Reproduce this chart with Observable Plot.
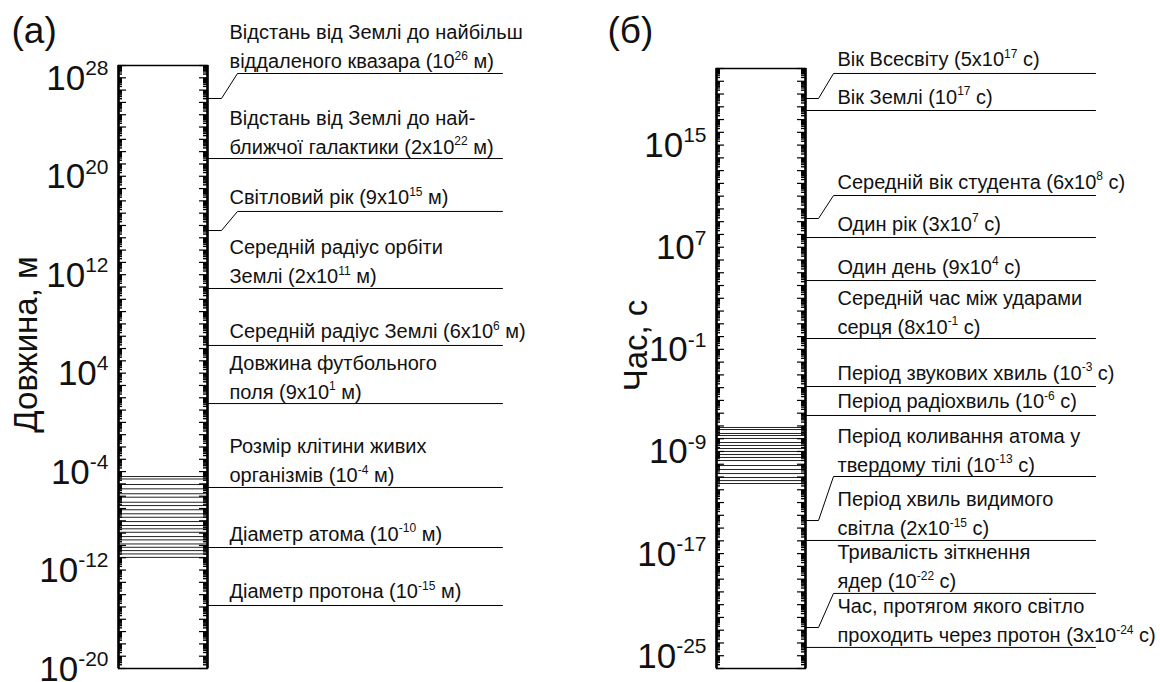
<!DOCTYPE html>
<html><head><meta charset="utf-8">
<script src="https://cdn.jsdelivr.net/npm/d3@7"></script>
<script src="https://cdn.jsdelivr.net/npm/@observablehq/plot@0.6"></script>
<style>
body{margin:0;background:#fff;}
#wrap{display:flex;width:1160px;height:682px;overflow:hidden;}
</style></head><body><div id="wrap"></div>
<script>
// ---------- Panel (а): length, exponents of 10 (metres) ----------
const lengthDomain = [-20, 29];
const lengthTicks = [28, 20, 12, 4, -4, -12, -20];
const lengthTexts = [
  ["Відстань від Землі до найбільш", "віддаленого квазара (10^{26} м)"],
  ["Відстань від Землі до най-", "ближчої галактики (2x10^{22} м)"],
  ["Світловий рік (9x10^{15} м)"],
  ["Середній радіус орбіти", "Землі (2x10^{11} м)"],
  ["Середній радіус Землі (6x10^{6} м)"],
  ["Довжина футбольного", "поля (9x10^{1} м)"],
  ["Розмір клітини живих", "організмів (10^{-4} м)"],
  ["Діаметр атома (10^{-10} м)"],
  ["Діаметр протона (10^{-15} м)"]
];
// where each leader meets the bar, and the level of its label line (exponents)
const lengthAnchors = [26.32, 21.44, 15.59, 10.88, 6.25, 1.53, -5.29, -10.17, -14.88];
const lengthLevels  = [28.35, 21.44, 17.14, 10.88, 6.25, 1.53, -5.29, -10.17, -14.88];
const lengthBands = [-4.4, -4.6, -5.05, -5.4, -5.8, -6.08, -6.49, -6.76, -7.1, -7.43, -7.71, -8.06, -8.38, -8.65, -8.93, -9.28, -9.55, -9.88, -10.15, -10.42, -10.69, -10.97];

// ---------- Panel (б): time, exponents of 10 (seconds) ----------
const timeDomain = [-26, 21];
const timeTicks = [15, 7, -1, -9, -17, -25];
const timeTexts = [
  ["Вік Всесвіту (5x10^{17} с)"],
  ["Вік Землі (10^{17} с)"],
  ["Середній вік студента (6x10^{8} с)"],
  ["Один рік (3x10^{7} с)"],
  ["Один день (9x10^{4} с)"],
  ["Середній час між ударами", "серця (8x10^{-1} с)"],
  ["Період звукових хвиль (10^{-3} с)"],
  ["Період радіохвиль (10^{-6} с)"],
  ["Період коливання атома у", "твердому тілі (10^{-13} с)"],
  ["Період хвиль видимого", "світла (2x10^{-15} с)"],
  ["Тривалість зіткнення", "ядер (10^{-22} с)"],
  ["Час, протягом якого світло", "проходить через протон (3x10^{-24} с)"]
];
const timeAnchors = [18.65, 17.71, 9.25, 7.76, 4.39, -0.15, -3.91, -6.18, -14.41, -15.97, -22.79, -24.35];
const timeLevels  = [20.61, 17.71, 11.05, 7.76, 4.39, -0.15, -3.91, -6.18, -10.96, -15.97, -20.12, -24.35];
const timeBands = [-7.12, -7.28, -7.59, -7.75, -7.98, -8.3, -8.53, -8.77, -9.0, -9.24, -9.47, -9.71, -10.1, -10.41, -10.73, -11.04, -11.28, -11.51];

const FONT = "'Liberation Sans', Arial, Helvetica, sans-serif";
const W = 580, H = 682;

function panel(cfg) {
  const {domain: [lo, hi], ticks, texts, anchors, levels, bands, m, letter, letterX, title, titlePos, textX, elbow, start, lineEnd} = cfg;
  const barW = W - m.left - m.right;
  const u = p => p / barW; // pixels -> x units (bar width = 1)
  const majors = d3.range(lo, hi + 1).map(e => 10 ** e);
  const minors = d3.range(lo, hi).flatMap(e => d3.range(2, 10).map(k => k * 10 ** e));
  const majLen = u(8), minLen = u(4);

  const leader = texts.flatMap((t, i) => {
    const a = 10 ** anchors[i], l = 10 ** levels[i];
    const pts = anchors[i] === levels[i]
      ? [[1, a], [1 + u(lineEnd), a]]
      : [[1, a], [1 + u(elbow), a], [1 + u(start), l], [1 + u(lineEnd), l]];
    return pts.map(([x, y]) => ({i, x, y}));
  });
  const lines = texts.flatMap((t, i) => t.map((s, j) => ({s, y: 10 ** levels[i]})));
  const minStyle = {stroke: "black", strokeWidth: 1.4};
  const majStyle = {stroke: "black", strokeWidth: 1.2};

  return Plot.plot({
    width: W, height: H,
    marginTop: m.top, marginBottom: m.bottom, marginLeft: m.left, marginRight: m.right,
    x: {domain: [0, 1], axis: null},
    y: {type: "log", domain: [10 ** lo, 10 ** hi], axis: null},
    style: {fontFamily: FONT, background: "white", color: "black", overflow: "visible"},
    marks: [
      Plot.ruleY(bands.map(e => 10 ** e), {x1: 0, x2: 1, stroke: "#222", strokeWidth: 1}),
      Plot.ruleY(minors, {x1: 0, x2: minLen, ...minStyle}),
      Plot.ruleY(minors, {x1: 1 - minLen, x2: 1, ...minStyle}),
      Plot.ruleY(majors, {x1: 0, x2: majLen, ...majStyle}),
      Plot.ruleY(majors, {x1: 1 - majLen, x2: 1, ...majStyle}),
      Plot.frame({stroke: "black", strokeWidth: 1.5}),
      Plot.ruleX([0, 1], {y1: 10 ** lo, y2: 10 ** hi, stroke: "black", strokeWidth: 2.5}),
      Plot.line(leader, {x: "x", y: "y", z: "i", stroke: "black", strokeWidth: 1}),
      Plot.text(lines, {
        x: 1 + u(textX), y: "y", text: "s", textAnchor: "start", lineAnchor: "bottom",
        fontSize: 20, fill: "#111"
      }),
      Plot.text(ticks, {
        x: 0, y: d => 10 ** d, text: d => `10^{${d}}`, textAnchor: "end", lineAnchor: "bottom",
        dx: -10, dy: 12, fontSize: 35, fill: "#111"
      }),
      Plot.text([letter], {frameAnchor: "top-left", textAnchor: "start", lineAnchor: "bottom",
        dx: letterX - m.left, dy: 42 - m.top, fontSize: 37, fill: "#111"}),
      Plot.text([title], {frameAnchor: "left", textAnchor: "middle", rotate: -90, lineAnchor: "bottom",
        dx: titlePos[0] - m.left, dy: titlePos[1] - (m.top + (H - m.bottom)) / 2, fontSize: 33, fill: "#111"})
    ]
  });
}

function superscripts(svg) {
  svg.querySelectorAll("text").forEach(t => {
    const s = t.textContent;
    if (!s.includes("^{")) return;
    const fs = parseFloat(getComputedStyle(t).fontSize);
    const shift = fs * 0.42, small = fs * 0.6;
    t.textContent = "";
    s.split(/\^\{([^}]*)\}/).forEach((p, j) => {
      if (!p) return;
      const ts = document.createElementNS("http://www.w3.org/2000/svg", "tspan");
      ts.textContent = p;
      if (j % 2) { ts.setAttribute("dy", -shift); ts.setAttribute("font-size", small); }
      else if (j > 0) ts.setAttribute("dy", shift);
      t.appendChild(ts);
    });
  });
}

const wrap = document.getElementById("wrap");
const a = panel({
  domain: lengthDomain, ticks: lengthTicks, texts: lengthTexts, anchors: lengthAnchors, levels: lengthLevels,
  bands: lengthBands, m: {top: 65, bottom: 14, left: 118, right: 373}, letter: "(а)", letterX: 11, title: "Довжина, м",
  titlePos: [36, 344], textX: 22, elbow: 14, start: 30, lineEnd: 295
});
const b = panel({
  domain: timeDomain, ticks: timeTicks, texts: timeTexts, anchors: timeAnchors, levels: timeLevels,
  bands: timeBands, m: {top: 68, bottom: 14, left: 136, right: 355}, letter: "(б)", letterX: 27, title: "Час, с",
  titlePos: [66, 345], textX: 32, elbow: 13, start: 28, lineEnd: 290
});
wrap.append(a, b);
// place label rows: last line just above its label line, earlier lines 29px higher
[a, b].forEach((svg, p) => {
  const texts = p ? timeTexts : lengthTexts;
  const rows = texts.flatMap(t => t.map((s, j) => ({k: t.length - 1 - j, n: t.length})));
  const g = svg.querySelectorAll("g[aria-label='text']")[0];
  g.querySelectorAll("text").forEach((t, idx) => {
    const r = rows[idx];
    t.setAttribute("dy", -(r.n === 1 ? 7 : 5) - 29 * r.k);
  });
  superscripts(svg);
});
</script>
</body></html>
